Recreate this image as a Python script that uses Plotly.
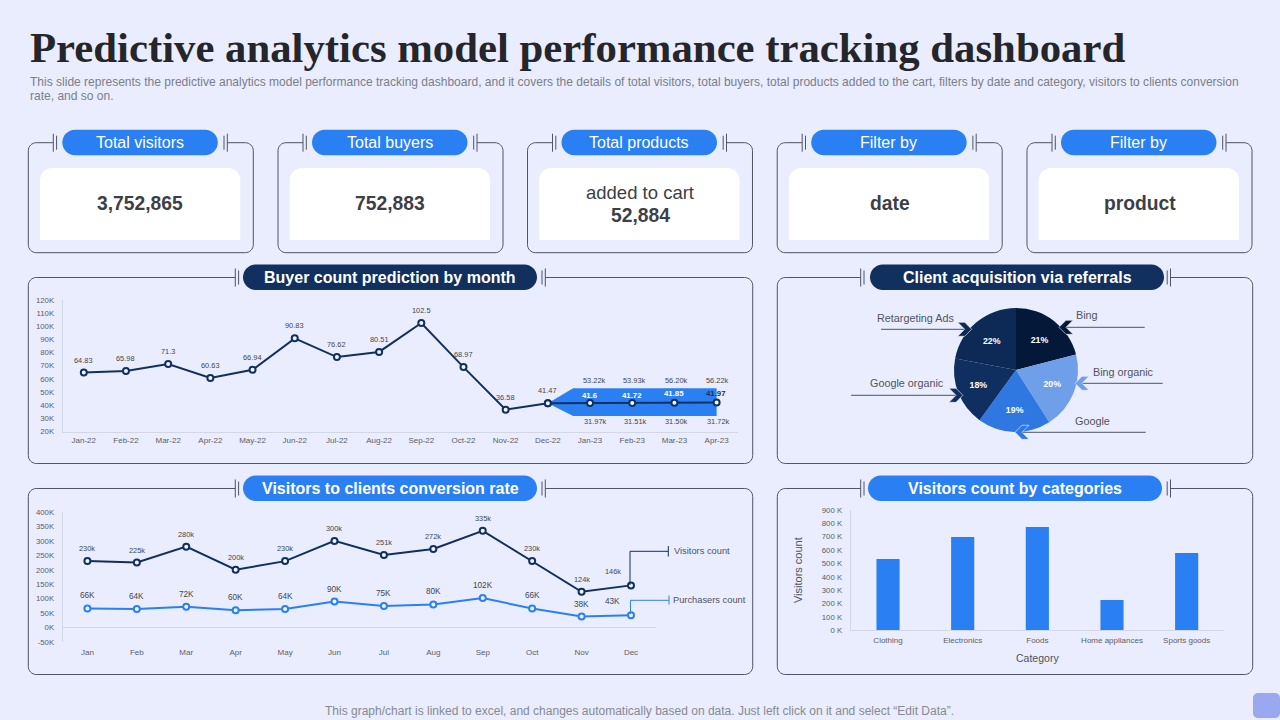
import plotly.graph_objects as go

W = 1280
H = 720

# buyer count chart
months = ["Jan-22", "Feb-22", "Mar-22", "Apr-22", "May-22", "Jun-22", "Jul-22", "Aug-22",
          "Sep-22", "Oct-22", "Nov-22", "Dec-22", "Jan-23", "Feb-23", "Mar-23", "Apr-23"]
buyers = [64.83, 65.98, 71.3, 60.63, 66.94, 90.83, 76.62, 80.51, 102.5, 68.97, 36.58, 41.47]
predicted = [41.47, 41.6, 41.72, 41.85, 41.97]
band_upper = [41.47, 52.8, 52.8, 52.8, 52.8, 52.8]
band_lower = [41.47, 31.7, 31.7, 31.7, 31.7, 31.7]
upper_labels = ["53.22k", "53.93k", "56.20k", "56.22k"]
lower_labels = ["31.97k", "31.51k", "31.50k", "31.72k"]
buyer_ticks = [20, 30, 40, 50, 60, 70, 80, 90, 100, 110, 120]

# conversion chart
short_months = ["Jan", "Feb", "Mar", "Apr", "May", "Jun", "Jul", "Aug", "Sep", "Oct", "Nov", "Dec"]
visitors = [230, 225, 280, 200, 230, 300, 251, 272, 335, 230, 124, 146]
purchasers = [66, 64, 72, 60, 64, 90, 75, 80, 102, 66, 38, 43]
conv_ticks = [-50, 0, 50, 100, 150, 200, 250, 300, 350, 400]

# pie
sources = ["Bing", "Bing organic", "Google", "Google organic", "Retargeting Ads"]
shares = [21, 20, 19, 18, 22]
pie_colors = ["#04183A", "#6F9FE8", "#2F78E2", "#102F61", "#0D2A57"]

# bars
categories = ["Clothing", "Electronics", "Foods", "Home appliances", "Sports goods"]
category_counts = [533, 698, 773, 227, 578]
count_ticks = [0, 100, 200, 300, 400, 500, 600, 700, 800, 900]

BG = "#E9EDFD"
NAVY = "#11305F"
BLUE = "#2A80F2"
EDGE = "#4D5566"
GRID = "#D3D7E3"
TICK = "#5B606C"
LABEL = "#43464F"
FONT = "Liberation Sans"


def px(x):
    return x / W


def py(y):
    return 1 - y / H


def pt(x, y):
    return f"{px(x):.5f},{py(y):.5f}"


def corner(x0, y0, cx, cy, x1, y1):
    # quarter circle from (x0,y0) to (x1,y1), (cx,cy) is the square corner
    k = 0.55
    a = (x0 + (cx - x0) * k, y0 + (cy - y0) * k)
    b = (x1 + (cx - x1) * k, y1 + (cy - y1) * k)
    return f"C {pt(*a)} {pt(*b)} {pt(x1, y1)} "


def box_path(x0, y0, x1, y1, r_top, r_bottom):
    p = f"M {pt(x0 + r_top, y0)} L {pt(x1 - r_top, y0)} "
    p += corner(x1 - r_top, y0, x1, y0, x1, y0 + r_top)
    p += f"L {pt(x1, y1 - r_bottom)} "
    if r_bottom:
        p += corner(x1, y1 - r_bottom, x1, y1, x1 - r_bottom, y1)
    p += f"L {pt(x0 + r_bottom, y1)} "
    if r_bottom:
        p += corner(x0 + r_bottom, y1, x0, y1, x0, y1 - r_bottom)
    p += f"L {pt(x0, y0 + r_top)} "
    p += corner(x0, y0 + r_top, x0, y0, x0 + r_top, y0)
    return p + "Z"


shapes = []
notes = []


def add_line(x0, y0, x1, y1, color=EDGE, width=1):
    shapes.append(dict(type="line", xref="paper", yref="paper", x0=px(x0), y0=py(y0), x1=px(x1), y1=py(y1),
                       line=dict(color=color, width=width)))


def add_text(x, y, text, size, color=LABEL, bold=False, anchor="center", family=FONT):
    # annotations carry 2px of padding on the anchored side
    if anchor == "left":
        x -= 2
    notes.append(dict(xref="paper", yref="paper", x=px(x), y=py(y), text=f"<b>{text}</b>" if bold else text,
                      showarrow=False, xanchor=anchor, yanchor="middle", align=anchor,
                      font=dict(family=family, size=size, color=color)))


def point_labels(xs, ys, texts, xref, yref, yshift, size=7.4, color=LABEL, bold=False, xshift=None):
    # value labels tied to the data points through the chart axes
    for i, (x, y, t) in enumerate(zip(xs, ys, texts)):
        shift_y = yshift[i] if isinstance(yshift, list) else yshift
        notes.append(dict(xref=xref, yref=yref, x=x, y=y, text=f"<b>{t}</b>" if bold else t, showarrow=False,
                          xanchor="center", yanchor="middle", yshift=shift_y,
                          xshift=xshift[i] if xshift else 0,
                          font=dict(family=FONT, size=size, color=color[i] if isinstance(color, list) else color)))


def add_panel(x0, y0, x1, y1, tick_l, tick_r, pill_l, pill_r, pill_color, title, size, bold, tick_h):
    r = 8
    p = f"M {pt(tick_l, y0)} L {pt(x0 + r, y0)} "
    p += corner(x0 + r, y0, x0, y0, x0, y0 + r)
    p += f"L {pt(x0, y1 - r)} "
    p += corner(x0, y1 - r, x0, y1, x0 + r, y1)
    p += f"L {pt(x1 - r, y1)} "
    p += corner(x1 - r, y1, x1, y1, x1, y1 - r)
    p += f"L {pt(x1, y0 + r)} "
    p += corner(x1, y0 + r, x1, y0, x1 - r, y0)
    p += f"L {pt(tick_r, y0)}"
    shapes.append(dict(type="path", xref="paper", yref="paper", path=p, line=dict(color=EDGE, width=1)))
    add_line(tick_l, y0 - tick_h, tick_l, y0 + tick_h)
    add_line(tick_l + 3.3, y0 - tick_h + 2, tick_l + 3.3, y0 + tick_h - 2)
    add_line(tick_r, y0 - tick_h, tick_r, y0 + tick_h)
    add_line(tick_r - 3.3, y0 - tick_h + 2, tick_r - 3.3, y0 + tick_h - 2)
    shapes.append(dict(type="path", xref="paper", yref="paper", fillcolor=pill_color, line=dict(width=0),
                       path=box_path(pill_l, y0 - 13, pill_r, y0 + 12.5, 12.7, 12.7)))
    add_text((pill_l + pill_r) / 2, y0 - 0.5, title, size, "#FFFFFF", bold)


def add_chevron(x, y, direction, color):
    # direction 1 points right, -1 points left
    d = direction
    coords = [(x - 11 * d, y - 7), (x - 4 * d, y - 7), (x + 3 * d, y), (x - 4 * d, y + 7),
              (x - 11 * d, y + 7), (x - 4 * d, y)]
    p = "M " + " L ".join(pt(a, b) for a, b in coords) + " Z"
    shapes.append(dict(type="path", xref="paper", yref="paper", path=p, fillcolor=color,
                       line=dict(color="#F4F6FE", width=0.6)))


# KPI cards
kpi_left = [28.3, 278, 527.5, 777.2, 1027]
kpi_centre = [140, 390, 640, 890, 1140]
kpi_titles = ["Total visitors", "Total buyers", "Total products", "Filter by", "Filter by"]
kpi_values = ["3,752,865", "752,883", None, "date", "product"]
for left, centre, title, value in zip(kpi_left, kpi_centre, kpi_titles, kpi_values):
    add_panel(left, 142.7, left + 225, 252.7, left + 25, left + 199, left + 34, left + 189.5, BLUE, title, 16, False, 9)
    shapes.append(dict(type="path", xref="paper", yref="paper", fillcolor="#FFFFFF", line=dict(width=0),
                       path=box_path(left + 11.7, 168, left + 212, 240, 12, 0)))
    if value:
        add_text(centre, 203.5, value, 19.3, "#3D3F46", True)
add_text(640, 192.5, "added to cart", 18.5, "#3D3F46")
add_text(640, 215.5, "52,884", 19.3, "#3D3F46", True)

# big panels
add_panel(28.3, 277.5, 752.7, 463.5, 235.3, 545.3, 243, 537, NAVY, "Buyer count prediction by month", 16, True, 9)
add_panel(777.3, 277.5, 1252.7, 463.5, 860.7, 1170.5, 870, 1164, NAVY, "Client acquisition via referrals", 16, True, 9)
add_panel(28.3, 488.5, 752.7, 674.5, 235.3, 545.3, 243, 537, BLUE, "Visitors to clients conversion rate", 16, True, 9)
add_panel(777.3, 488.5, 1252.7, 674.5, 860.7, 1170.5, 868, 1162, BLUE, "Visitors count by categories", 16, True, 9)

# heading and notes
add_text(30, 48, "Predictive analytics model performance tracking dashboard", 42.75, "#24262B", True, "left", "Liberation Serif")
add_text(30, 82, "This slide represents the predictive analytics model performance tracking dashboard, and it covers the details of total visitors, total buyers, total products added to the cart, filters by date and category, visitors to clients conversion", 12.03, "#7B7F8B", False, "left")
add_text(30, 96, "rate, and so on.", 12.03, "#7B7F8B", False, "left")
add_text(639.5, 710.5, "This graph/chart is linked to excel, and changes automatically based on data. Just left click on it and select “Edit Data”.", 12, "#868A95")
shapes.append(dict(type="path", xref="paper", yref="paper", fillcolor="#9AA8EF", line=dict(width=0),
                   path=box_path(1253, 693, 1280, 718, 5, 5)))

# pie callouts
callouts = [
    ("Retargeting Ads", 915, 317.5, 881, 966.7, 329.3, 1, "#0D2A57"),
    ("Bing", 1086.5, 315, 1144.7, 1064, 327.3, -1, "#04183A"),
    ("Bing organic", 1123, 372, 1162.7, 1080, 383.3, -1, "#6F9FE8"),
    ("Google organic", 907, 383, 851, 958, 395.3, 1, "#102F61"),
    ("Google", 1092, 420.5, 1145.7, 1020, 432.3, -1, "#2F78E2"),
]
for name, tx, ty, lx0, lx1, ly, direction, color in callouts:
    add_line(lx0, ly, lx1, ly)
    add_chevron(lx1 + 2 * direction, ly, direction, color)
    add_text(tx, ty, name, 10.8, "#50545F")

# series callouts
add_line(630, 585, 630, 551.3, NAVY)
add_line(630, 551.3, 668.3, 551.3, NAVY)
add_line(668.3, 546, 668.3, 556.5, NAVY)
add_text(674, 551, "Visitors count", 9.3, "#50545F", False, "left")
add_line(630.5, 614, 630.5, 600.3, BLUE)
add_line(630.5, 600.3, 669, 600.3, BLUE)
add_line(669, 595.5, 669, 604.5, BLUE)
add_text(673, 600, "Purchasers count", 9.3, "#50545F", False, "left")

fig = go.Figure()

# forecast band goes in first so the line sits on top
shoulder = 11.6
band_x = [11, shoulder, 12, 13, 14, 15]
fig.add_trace(go.Scatter(x=band_x + band_x[::-1], y=band_upper + band_lower[::-1], fill="toself",
                         fillcolor=BLUE, mode="none", xaxis="x", yaxis="y", hoverinfo="skip"))
dot = dict(size=6, color="#F4F6FE", line=dict(color=NAVY, width=2))
fig.add_trace(go.Scatter(x=list(range(12)), y=buyers, mode="lines+markers", cliponaxis=False,
                         line=dict(color=NAVY, width=2), marker=dot, xaxis="x", yaxis="y"))
fig.add_trace(go.Scatter(x=list(range(11, 16)), y=predicted, mode="lines+markers",
                         line=dict(color=NAVY, width=2), marker=dot, xaxis="x", yaxis="y"))
fig.add_trace(go.Scatter(x=short_months, y=visitors, mode="lines+markers",
                         line=dict(color=NAVY, width=2), marker=dot, xaxis="x2", yaxis="y2"))
fig.add_trace(go.Scatter(x=short_months, y=purchasers, mode="lines+markers",
                         line=dict(color=BLUE, width=2),
                         marker=dict(size=6, color="#F4F6FE", line=dict(color=BLUE, width=2)),
                         xaxis="x2", yaxis="y2"))

point_labels(list(range(12)), buyers, [str(v) for v in buyers], "x", "y", 12.5)
point_labels(list(range(12, 16)), predicted[1:], [str(v) for v in predicted[1:]], "x", "y", [7.5, 7.5, 9.5, 9.5],
             size=7.8, color=["#FFFFFF", "#FFFFFF", "#FFFFFF", "#24304A"], bold=True, xshift=[0, 0, 0, -1])
point_labels(list(range(12, 16)), band_upper[2:], upper_labels, "x", "y", 8, xshift=[3.5, 1.5, 1.5, 0])
point_labels(list(range(12, 16)), band_lower[2:], lower_labels, "x", "y", -5.5, xshift=[4.5, 2.5, 1.5, 1])
end_shift = [0] * 11 + [-18]
end_lift = [12.5] * 11 + [13.7]
point_labels(short_months, visitors, [f"{v}k" for v in visitors], "x2", "y2", end_lift, xshift=end_shift)
point_labels(short_months, purchasers, [f"{v}K" for v in purchasers], "x2", "y2", end_lift, size=8.2, xshift=end_shift)

fig.add_trace(go.Bar(x=categories, y=category_counts, marker=dict(color=BLUE, line=dict(width=0)),
                     xaxis="x3", yaxis="y3"))

fig.add_trace(go.Pie(labels=sources, values=shares, sort=False, direction="clockwise", rotation=0,
                     marker=dict(colors=pie_colors, line=dict(width=0)), textinfo="percent",
                     textposition="inside", insidetextorientation="horizontal",
                     textfont=dict(family=FONT, size=8.8, color="#FFFFFF", weight="bold"),
                     domain=dict(x=[px(1016 - 62), px(1016 + 62)], y=[py(370 + 62), py(370 - 62)])))


def value_axis(ticks, labels, y0, y1, rng, anchor):
    return dict(domain=[py(y1), py(y0)], range=rng, tickvals=ticks, ticktext=labels, anchor=anchor,
                automargin=False, showgrid=False, zeroline=False, showline=True, linecolor=GRID, linewidth=1,
                ticks="outside", ticklen=6, tickcolor="rgba(0,0,0,0)",
                tickfont=dict(family=FONT, size=7.8, color=TICK))


def cat_axis(x0, x1, anchor):
    return dict(domain=[px(x0), px(x1)], anchor=anchor, automargin=False, showgrid=False, zeroline=False,
                showline=True, linecolor=GRID, linewidth=1, ticks="outside", ticklen=1,
                tickcolor="rgba(0,0,0,0)", tickfont=dict(family=FONT, size=8, color=TICK), tickangle=0)


x1_axis = cat_axis(62.7, 737.7, "y")
x1_axis.update(range=[-0.5, 15.5], tickvals=list(range(16)), ticktext=months)
x2_axis = cat_axis(62.7, 655.7, "y2")
x2_axis.update(type="category", range=[-0.5, 11.5], showline=False, ticklen=2.5)
x3_axis = cat_axis(850.7, 1224, "y3")
x3_axis.update(type="category", ticklen=2, title=dict(text="Category", standoff=10, font=dict(family=FONT, size=10.5, color="#50545F")))

y1_axis = value_axis(buyer_ticks, [f"{v}K" for v in buyer_ticks], 300, 431.5, [20, 120], "x")
y2_axis = value_axis(conv_ticks, [f"{v}K" for v in conv_ticks], 512, 642, [-50, 400], "x2")
y2_axis.update(zeroline=True, zerolinecolor=GRID, zerolinewidth=1)
y3_axis = value_axis(count_ticks, [f"{v} K" for v in count_ticks], 510, 630.3, [0, 900], "x3")
y3_axis.update(title=dict(text="Visitors count", standoff=16, font=dict(family=FONT, size=11, color="#50545F")))

fig.update_layout(
    width=W,
    height=H,
    margin=dict(l=0, r=0, t=0, b=0),
    paper_bgcolor=BG,
    plot_bgcolor="rgba(0,0,0,0)",
    showlegend=False,
    bargap=0.69,
    xaxis=x1_axis,
    yaxis=y1_axis,
    xaxis2=x2_axis,
    yaxis2=y2_axis,
    xaxis3=x3_axis,
    yaxis3=y3_axis,
    shapes=shapes,
    annotations=notes,
)

fig.write_html("out.html", config={"displayModeBar": False}, post_script="document.body.style.margin='0';")
